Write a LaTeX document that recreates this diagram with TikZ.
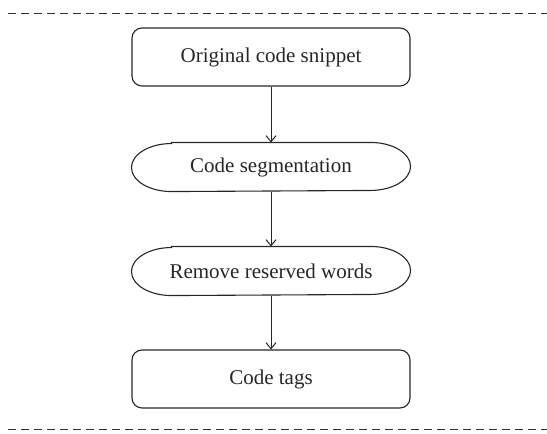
\documentclass[tikz,border=0pt]{standalone}
\usepackage{fontspec}
\setmainfont{Liberation Serif}
\usetikzlibrary{arrows.meta}
\begin{document}
\begin{tikzpicture}[x=1pt,y=-1pt,
  line width=1.1pt,
  every node/.style={font=\fontsize{21}{24}\selectfont, text=black!85},
  stepbox/.style={draw=black!85, rounded corners=10pt, minimum width=278pt, minimum height=58pt, inner sep=0pt},
  pillnode/.style={minimum width=278pt, minimum height=48pt, inner sep=0pt},
  pillline/.style={draw=black!85},
  link/.style={draw=black!85, line width=1pt, -{Straight Barb[length=6pt,width=10pt]}},
  sep/.style={draw=black!80, line width=1pt, dash pattern=on 8pt off 5pt}
]
\useasboundingbox (0,0) rectangle (547,434);

% separator lines
\coordinate (tl) at (8,13);
\coordinate (tr) at (547,13);
\coordinate (bl) at (8,429);
\coordinate (br) at (547,429);
\draw[sep] (tl) -- (tr);
\draw[sep] (bl) -- (br);

% steps
\node[stepbox] (orig) at (271,57) {Original code snippet};
\node[pillnode] (seg) at (271,167) {Code segmentation};
\node[pillnode] (rem) at (271,271) {Remove reserved words};
\node[stepbox] (tags) at (271,379) {Code tags};

% pill outlines with elliptical ends
\foreach \n in {seg,rem}{
  \draw[pillline] ([xshift=40pt]\n.north west) -- ([xshift=-40pt]\n.north east)
    arc[start angle=90, end angle=-90, x radius=40pt, y radius=24pt]
    -- ([xshift=40pt]\n.south west)
    arc[start angle=270, end angle=90, x radius=40pt, y radius=24pt]
    -- cycle;
}

% connectors
\draw[link] (orig.south) -- (seg.north);
\draw[link] (seg.south) -- (rem.north);
\draw[link] (rem.south) -- (tags.north);
\end{tikzpicture}
\end{document}
